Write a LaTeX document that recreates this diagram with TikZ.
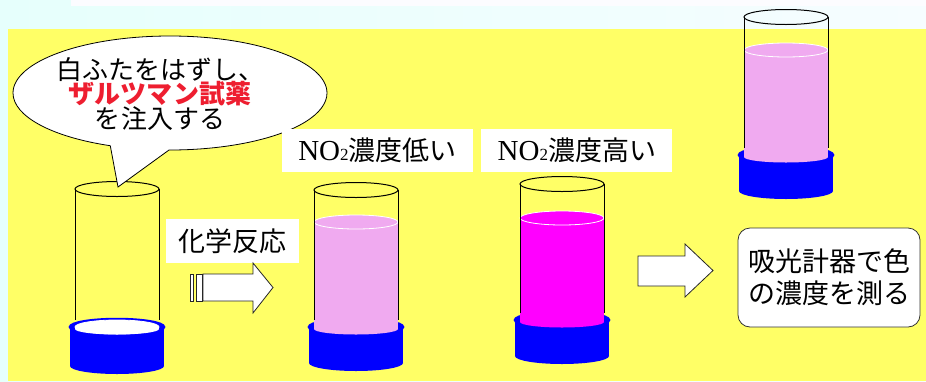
\documentclass[tikz,border=0pt]{standalone}
\usepackage{fontspec}
\usetikzlibrary{shapes.callouts, positioning}
\newfontfamily\jp{Noto Sans CJK JP}
\newfontfamily\tms{Liberation Serif}
\definecolor{sky}{RGB}{230,255,252}
\definecolor{skylight}{RGB}{246,253,255}
\definecolor{pad}{RGB}{255,255,102}
\definecolor{lowpink}{RGB}{240,170,240}
\definecolor{highpink}{RGB}{255,0,255}
\definecolor{reagent}{RGB}{238,30,48}
\definecolor{paper}{RGB}{252,252,255}

% test tube on a blue stand: centre x, top, liquid level, rim, bottom, liquid colour
\newcommand{\testtube}[6]{%
  \fill[blue] (#1-47,-#4) rectangle (#1+47,-#5);
  \fill[blue] (#1,-#5) ellipse (47 and 8);
  \filldraw[blue, line width=2.5pt] (#1,-#4) ellipse (47 and 8);
  \fill[#6] (#1-42,-#3) rectangle (#1+42,-#4-2);
  \fill[#6] (#1,-#4-2) ellipse (42 and 5.5);
  \filldraw[fill=#6, draw=white, line width=0.8pt] (#1,-#3) ellipse (42 and 7);
  \draw[line width=1pt] (#1-42,-#2) -- (#1-42,-#4+7) (#1+42,-#2) -- (#1+42,-#4+7);
  \draw[line width=1pt] (#1,-#2) ellipse (42 and 7.5);
}

\begin{document}
\begin{tikzpicture}[x=1pt, y=1pt,
  labelbox/.style={fill=white, inner sep=0pt, font=\jp\fontsize{27}{32}\selectfont},
  arrowbox/.style={fill=white, draw=black!85, line width=0.8pt}]
\useasboundingbox (0,0) rectangle (926,-381);
\shade[left color=sky, right color=skylight] (0,0) rectangle (926,-381);
\fill[paper] (71,0) rectangle (926,-6);
\fill[pad] (8,-29) rectangle (926,-381);

% the four tubes
\testtube{117}{189}{327}{327}{366}{white}
\testtube{356}{190}{222}{327}{363}{lowpink}
\testtube{562}{184}{218}{320}{356}{highpink}
\testtube{786}{17}{50}{155}{191}{lowpink}

% speech bubble
\node[ellipse callout, draw, fill=white, line width=0.8pt, minimum width=314pt, minimum height=114pt,
  callout absolute pointer={(118,-187)}, callout pointer arc=22] (bubble) at (170,-93) {};
\node[font=\jp\fontsize{26}{24.5}\selectfont, align=center] (hint) at (160,-94)
  {白ふたをはずし、\\{\color{reagent}\bfseries ザルツマン試薬}\\を注入する};

% labels
\node[labelbox, minimum width=191pt, minimum height=43pt] (low) at (377.5,-150.5)
  {{\tms\fontsize{29}{32}\selectfont NO{\fontsize{17}{17}\selectfont 2}}濃度低い};
\node[labelbox, minimum width=191pt, minimum height=43pt, right=8pt of low] (high)
  {{\tms\fontsize{29}{32}\selectfont NO{\fontsize{17}{17}\selectfont 2}}濃度高い};
\node[labelbox, minimum width=133pt, minimum height=44pt] (react) at (232.5,-241) {化学反応};
\node[labelbox, draw=black!80, line width=0.8pt, rounded corners=12pt, minimum width=182pt,
  minimum height=99pt, align=center] (meter) at (829,-277.5) {吸光計器で色\\の濃度を測る};

% block arrows
\filldraw[arrowbox] (190,-274) rectangle (193.5,-301);
\filldraw[arrowbox] (196,-274) rectangle (202,-301);
\filldraw[arrowbox] (203,-274) -- (253,-274) -- (253,-263) -- (273,-287.5)
  -- (253,-313) -- (253,-301) -- (203,-301) -- cycle;
\filldraw[arrowbox] (638,-256) -- (685,-256) -- (685,-244) -- (713,-270.5)
  -- (685,-297) -- (685,-286) -- (638,-286) -- cycle;
\end{tikzpicture}
\end{document}
